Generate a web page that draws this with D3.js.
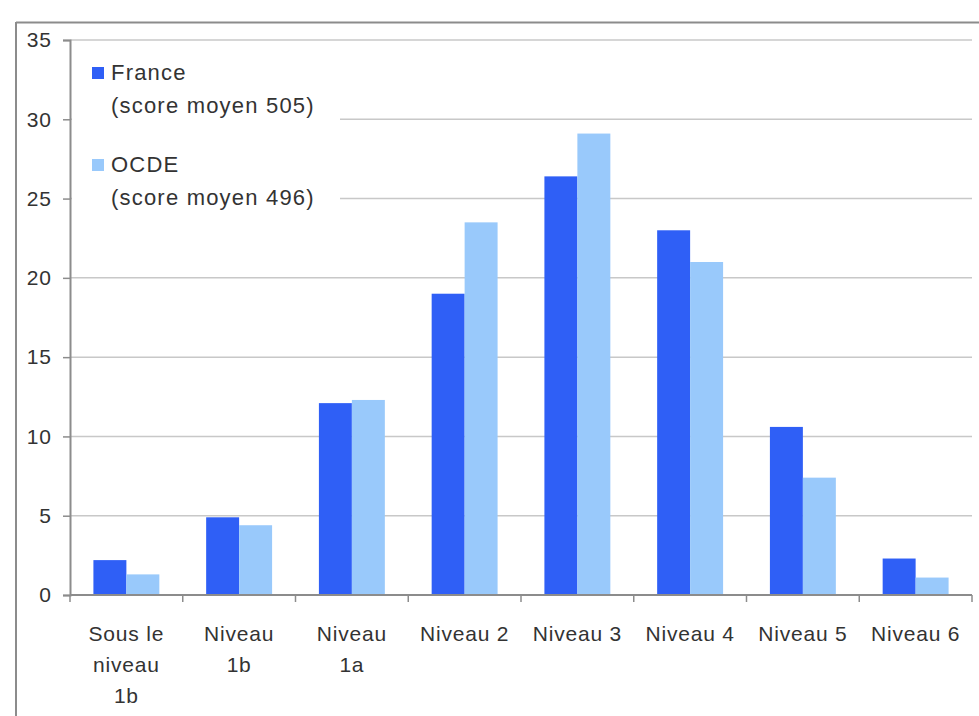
<!DOCTYPE html>
<html><head><meta charset="utf-8">
<script src="https://cdn.jsdelivr.net/npm/d3@7"></script>
<style>
body{margin:0;background:#fff;}
svg{display:block;}
text{font-family:"Liberation Sans",Arial,sans-serif;fill:#333;}
</style></head><body>
<svg id="c" width="979" height="716"></svg>
<script>
const categories = ["Sous le niveau 1b","Niveau 1b","Niveau 1a","Niveau 2","Niveau 3","Niveau 4","Niveau 5","Niveau 6"];
const categoryLines = [["Sous le","niveau","1b"],["Niveau","1b"],["Niveau","1a"],["Niveau 2"],["Niveau 3"],["Niveau 4"],["Niveau 5"],["Niveau 6"]];
const seriesNames = ["France","OCDE"];
const seriesLegend = [["France","(score moyen 505)"],["OCDE","(score moyen 496)"]];
const franceValues = [2.2,4.9,12.1,19.0,26.4,23.0,10.6,2.3];
const ocdeValues = [1.3,4.4,12.3,23.5,29.1,21.0,7.4,1.1];
const yTicks = [0,5,10,15,20,25,30,35];
const colors = ["#2f5ff6","#99c9fb"];

const svg = d3.select("#c");
const mLeft = 70, mRight = 972, mTop = 40, mBottom = 595;
const x0 = d3.scaleBand().domain(categories).range([mLeft,mRight]).paddingInner(0).paddingOuter(0);
const x1 = d3.scaleBand().domain(seriesNames).range([0,x0.bandwidth()]).paddingInner(0).paddingOuter(0.71);
const y = d3.scaleLinear().domain([0,35]).range([mBottom,mTop]);
const values = [franceValues, ocdeValues];

// outer frame
svg.append("line").attr("x1",16).attr("x2",979).attr("y1",22.5).attr("y2",22.5).attr("stroke","#8c8c8c").attr("stroke-width",2);
svg.append("line").attr("x1",16).attr("x2",16).attr("y1",22).attr("y2",716).attr("stroke","#8c8c8c").attr("stroke-width",2);

// gridlines
svg.append("g").selectAll("line").data(yTicks.filter(d=>d>0)).join("line")
  .attr("x1",mLeft).attr("x2",mRight).attr("y1",d=>y(d)).attr("y2",d=>y(d))
  .attr("stroke","#c8c8c8").attr("stroke-width",1.5);

// bars
const g = svg.append("g");
categories.forEach((c,i)=>{
  seriesNames.forEach((s,j)=>{
    g.append("rect").attr("x",x0(c)+x1(s)).attr("width",x1.bandwidth())
      .attr("y",y(values[j][i])).attr("height",y(0)-y(values[j][i])).attr("fill",colors[j]);
  });
});

// y axis
const ya = svg.append("g").attr("transform",`translate(${mLeft},0)`)
  .call(d3.axisLeft(y).tickValues(yTicks).tickSize(7).tickPadding(11).tickFormat(d3.format("d")));
ya.select(".domain").attr("stroke","#8c8c8c").attr("stroke-width",2);
ya.selectAll(".tick line").attr("stroke","#8c8c8c").attr("stroke-width",1.5);
ya.selectAll("text").attr("font-size",21).style("font-family","Liberation Sans, Arial, sans-serif").attr("fill","#333").attr("letter-spacing",1);

// x axis line and boundary ticks
const bounds = categories.map(c=>x0(c)).concat([mRight]);
svg.append("line").attr("x1",mLeft).attr("x2",mRight).attr("y1",mBottom).attr("y2",mBottom).attr("stroke","#8c8c8c").attr("stroke-width",2);
svg.append("g").selectAll("line").data(bounds).join("line")
  .attr("x1",d=>d).attr("x2",d=>d).attr("y1",mBottom).attr("y2",mBottom+7).attr("stroke","#8c8c8c").attr("stroke-width",1.5);

// x labels
const xl = svg.append("g");
categories.forEach((c,i)=>{
  const t = xl.append("text").attr("x",x0(c)+x0.bandwidth()/2).attr("y",641).attr("text-anchor","middle")
    .attr("font-size",21).attr("letter-spacing",0.8);
  categoryLines[i].forEach((ln,k)=>{
    t.append("tspan").attr("x",x0(c)+x0.bandwidth()/2).attr("y",641+k*31).text(ln);
  });
});

// legend
const lg = svg.append("g");
lg.append("rect").attr("x",mLeft+2).attr("y",50).attr("width",268).attr("height",168).attr("fill","#fff");
const legY = [80,172];
seriesLegend.forEach((lines,j)=>{
  lg.append("rect").attr("x",92).attr("y",legY[j]-13).attr("width",12).attr("height",12).attr("fill",colors[j]);
  lg.append("text").attr("x",111).attr("y",legY[j]).attr("font-size",22).attr("letter-spacing",1.2).text(lines[0]);
  lg.append("text").attr("x",111).attr("y",legY[j]+33).attr("font-size",22).attr("letter-spacing",1.2).text(lines[1]);
});
</script>
</body></html>
